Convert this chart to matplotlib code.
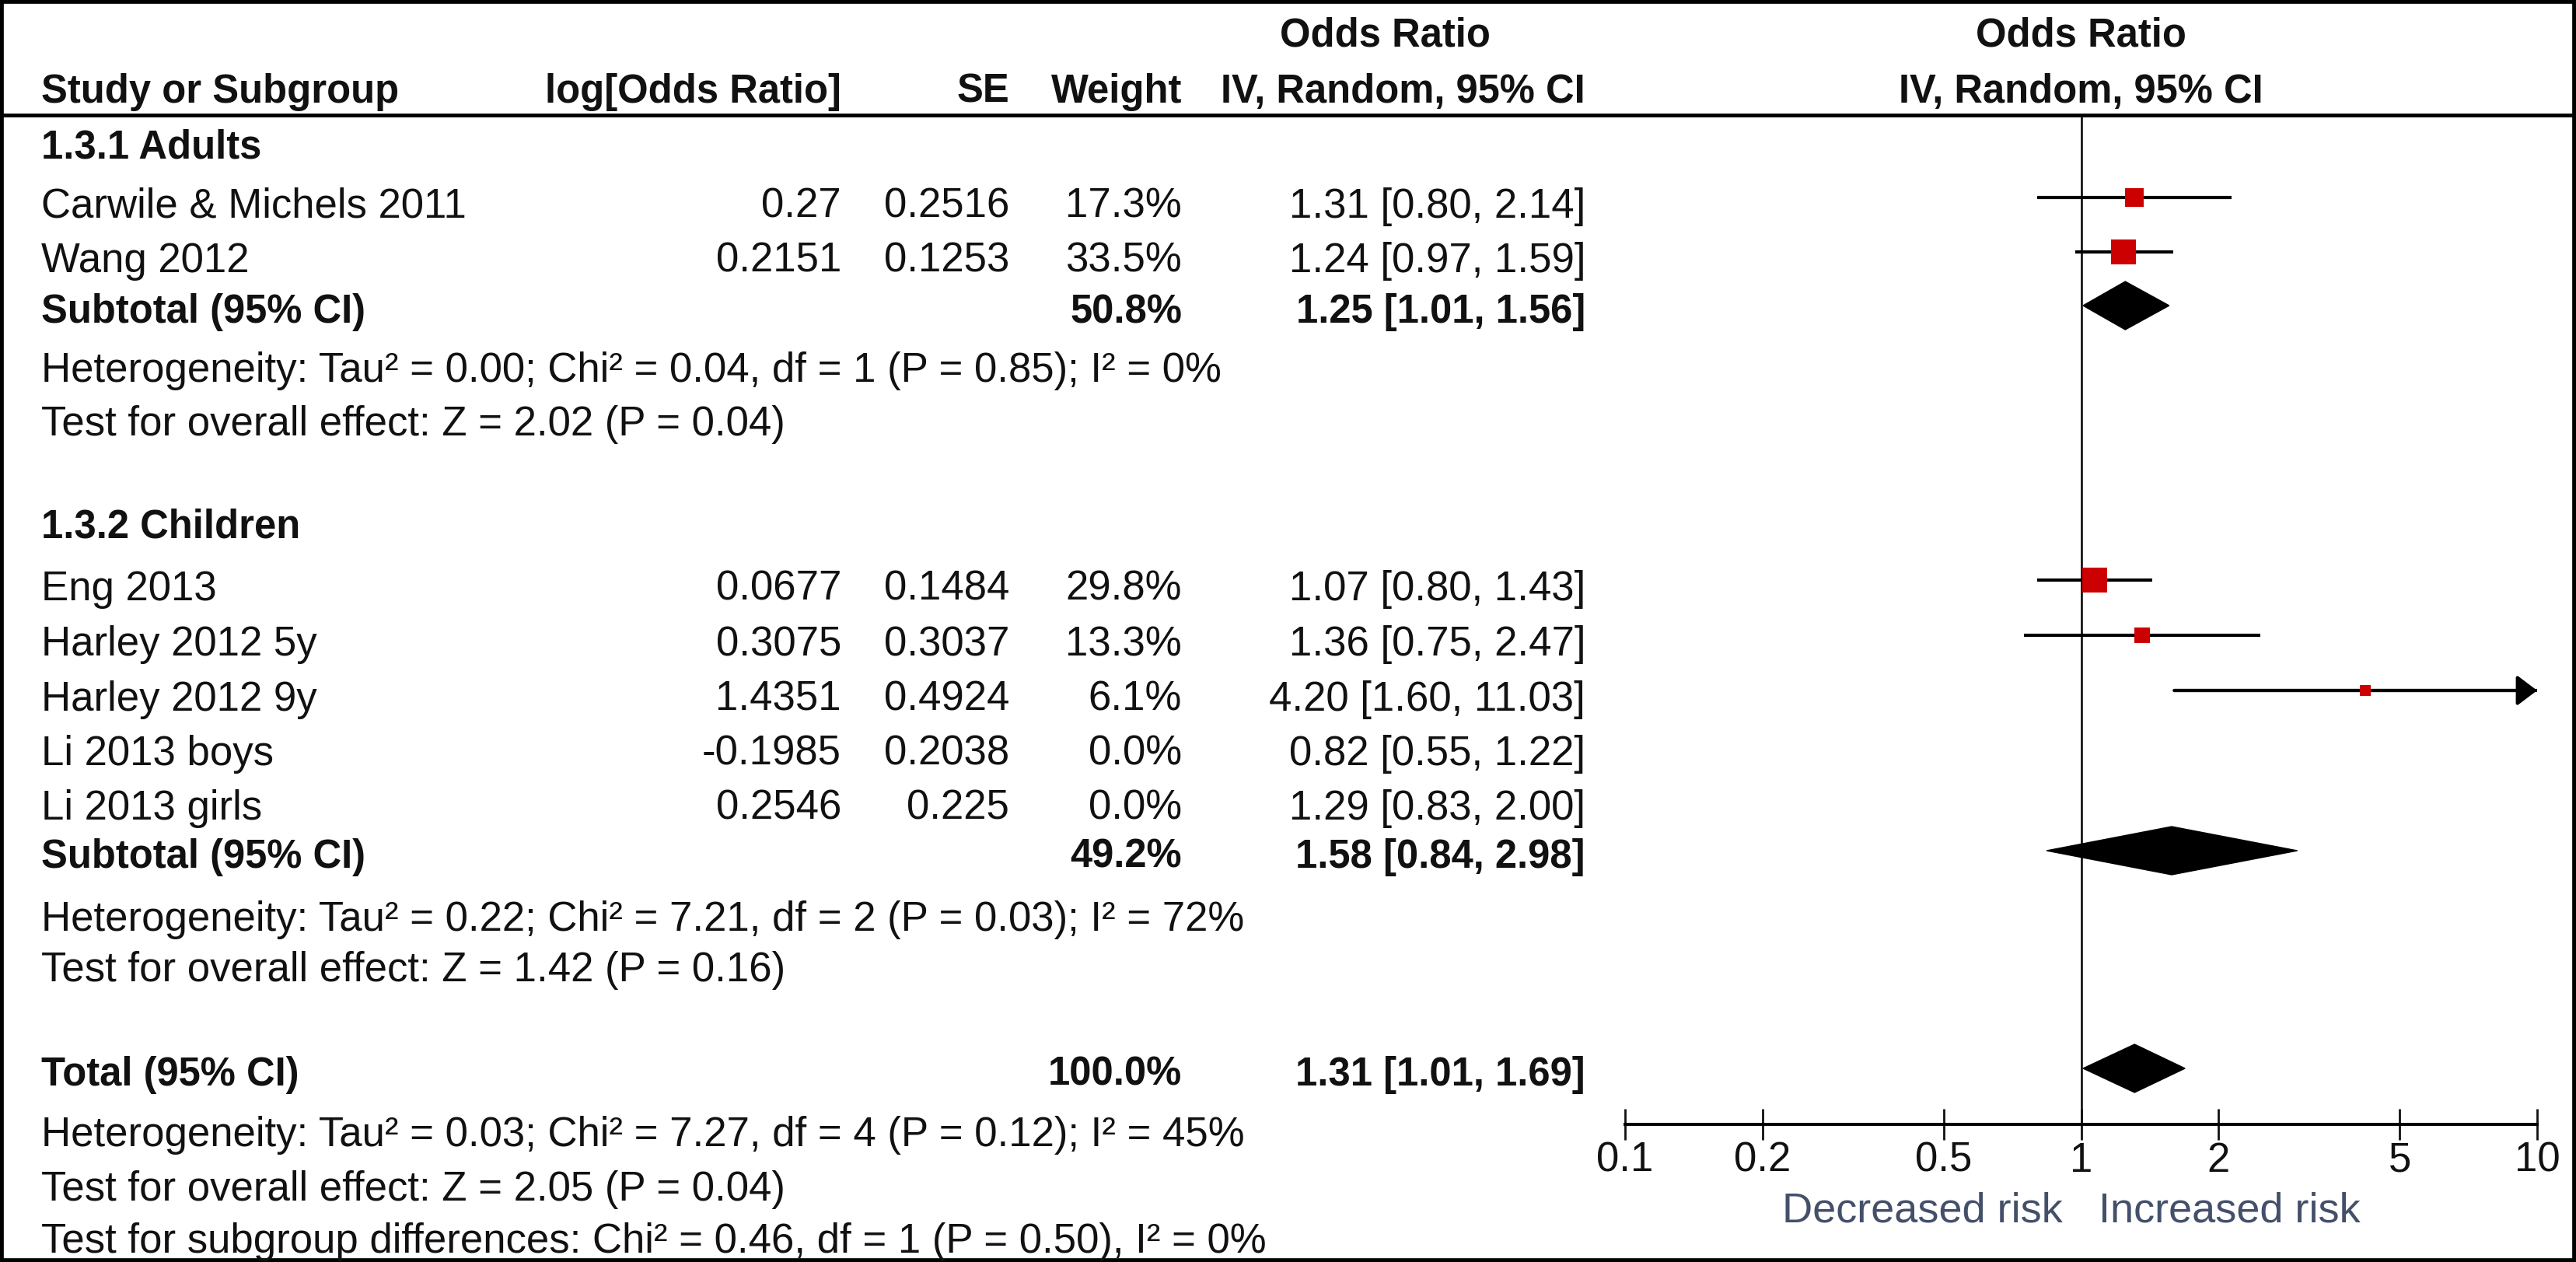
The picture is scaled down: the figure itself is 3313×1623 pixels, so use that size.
import matplotlib
matplotlib.use('Agg')
import matplotlib.pyplot as plt
from matplotlib.patches import Polygon
from matplotlib.ticker import NullLocator
from matplotlib.transforms import offset_copy
import numpy as np

plt.rcParams['font.family'] = ['Liberation Sans', 'DejaVu Sans']

### DATA ###
study_names = ["Carwile & Michels 2011", "Wang 2012", "Eng 2013", "Harley 2012 5y",
               "Harley 2012 9y", "Li 2013 boys", "Li 2013 girls"]
study_group = [0, 0, 1, 1, 1, 1, 1]
log_or = [0.27, 0.2151, 0.0677, 0.3075, 1.4351, -0.1985, 0.2546]
se = [0.2516, 0.1253, 0.1484, 0.3037, 0.4924, 0.2038, 0.225]
weight = [17.3, 33.5, 29.8, 13.3, 6.1, 0.0, 0.0]
odds_ratio = [1.31, 1.24, 1.07, 1.36, 4.20, 0.82, 1.29]
ci_low = [0.80, 0.97, 0.80, 0.75, 1.60, 0.55, 0.83]
ci_high = [2.14, 1.59, 1.43, 2.47, 11.03, 1.22, 2.00]

group_titles = ["1.3.1 Adults", "1.3.2 Children"]
sub_weight = [50.8, 49.2]
sub_or = [1.25, 1.58]
sub_low = [1.01, 0.84]
sub_high = [1.56, 2.98]
sub_notes = [
    ["Heterogeneity: Tau\u00b2 = 0.00; Chi\u00b2 = 0.04, df = 1 (P = 0.85); I\u00b2 = 0%",
     "Test for overall effect: Z = 2.02 (P = 0.04)"],
    ["Heterogeneity: Tau\u00b2 = 0.22; Chi\u00b2 = 7.21, df = 2 (P = 0.03); I\u00b2 = 72%",
     "Test for overall effect: Z = 1.42 (P = 0.16)"],
]

total_weight = 100.0
total_or = 1.31
total_low = 1.01
total_high = 1.69
total_notes = [
    "Heterogeneity: Tau\u00b2 = 0.03; Chi\u00b2 = 7.27, df = 4 (P = 0.12); I\u00b2 = 45%",
    "Test for overall effect: Z = 2.05 (P = 0.04)",
    "Test for subgroup differences: Chi\u00b2 = 0.46, df = 1 (P = 0.50), I\u00b2 = 0%",
]

axis_ticks = [0.1, 0.2, 0.5, 1, 2, 5, 10]
axis_ticklabels = ["0.1", "0.2", "0.5", "1", "2", "5", "10"]
favours = ["Decreased risk", "Increased risk"]

### LAYOUT (pixels, measured from top) ###
W, H = 3313, 1623
FS = 38        # regular text
FS_B = 36.5    # bold text
TXT = '#111111'
header_y = [60, 132]
header_line_y = 148
axis_y = 1446
group_title_y = [203, 692]
study_y = [280, 350, 772, 843, 914, 984, 1054]
sub_y = [415, 1116]
sub_note_y = [[491, 560], [1197, 1262]]
total_y = 1396
total_note_y = [1474, 1544, 1611]
favours_y = 1571
col_study = 53
col_logor = 1082
col_se = 1298
col_weight = 1520
col_or = 2039
head_or_center = 1781
x_01, x_10 = 2090, 3263

fig = plt.figure(figsize=(W / 100, H / 100), dpi=100)
ax = fig.add_axes([0, 0, 1, 1])
ax.set_xlim(0, W)
ax.set_ylim(H, 0)
ax.set_xticks([])
ax.set_yticks([])
for s in ax.spines.values():
    s.set_linewidth(7)
    s.set_color('black')

# forest plot axes: log x, pixel y
fx = fig.add_axes([x_01 / W, (H - axis_y) / H, (x_10 - x_01) / W, (axis_y - header_line_y) / H])
fx.set_xscale('log')
fx.set_xlim(0.1, 10)
fx.set_ylim(axis_y, header_line_y)
fx.patch.set_alpha(0)
for side in ['top', 'left', 'right']:
    fx.spines[side].set_visible(False)
fx.spines['bottom'].set_linewidth(2.8)
fx.set_xticks(axis_ticks)
fx.set_xticklabels(axis_ticklabels)
fx.xaxis.set_minor_locator(NullLocator())
fx.set_yticks([])
fx.tick_params(axis='x', direction='inout', length=29, width=2, labelsize=FS, pad=1,
               colors=TXT)
fx.axvline(1, color='black', lw=1.8, zorder=1)


def txt(x, y, s, ha='left', bold=False, **kw):
    ax.text(x, y, s, ha=ha, va='baseline', fontsize=FS_B if bold else FS, color=TXT,
            fontweight='bold' if bold else 'normal', **kw)


### HEADER ###
txt(head_or_center, header_y[0], "Odds Ratio", ha='center', bold=True)
txt(col_study, header_y[1], "Study or Subgroup", bold=True)
txt(col_logor, header_y[1], "log[Odds Ratio]", ha='right', bold=True)
txt(col_se, header_y[1], "SE", ha='right', bold=True)
txt(col_weight, header_y[1], "Weight", ha='right', bold=True)
txt(col_or, header_y[1], "IV, Random, 95% CI", ha='right', bold=True)
fx.text(1, header_y[0], "Odds Ratio", ha='center', va='baseline', fontsize=FS_B,
        fontweight='bold', color=TXT)
fx.text(1, header_y[1], "IV, Random, 95% CI", ha='center', va='baseline', fontsize=FS_B,
        fontweight='bold', color=TXT)
ax.axhline(header_line_y, color='black', lw=3.5)

### STUDIES ###
for i, name in enumerate(study_names):
    y = study_y[i]
    txt(col_study, y, name)
    txt(col_logor, y, str(log_or[i]), ha='right')
    txt(col_se, y, str(se[i]), ha='right')
    txt(col_weight, y, f"{weight[i]:.1f}%", ha='right')
    txt(col_or, y, f"{odds_ratio[i]:.2f} [{ci_low[i]:.2f}, {ci_high[i]:.2f}]", ha='right')
    if weight[i] <= 0:
        continue
    my = y - 26
    hi = min(ci_high[i], 10)
    fx.plot([ci_low[i], hi], [my, my], color='black', lw=3, solid_capstyle='butt', zorder=2)
    if ci_high[i] > 10:
        fx.annotate('', xy=(hi, my), xytext=(ci_low[i], my),
                    arrowprops=dict(arrowstyle='-|>,head_length=0.45,head_width=0.34',
                                    mutation_scale=35, color='black', lw=3,
                                    shrinkA=0, shrinkB=0))
    side_pt = 5.7 * np.sqrt(weight[i]) * 72 / 100
    fx.scatter([odds_ratio[i]], [my], marker='s', s=side_pt ** 2, color='#cc0000',
               linewidths=0, zorder=3)


def diamond(est, lo, hi, y):
    dy = y - 22
    fx.add_patch(Polygon([(lo, dy), (est, dy - 31), (hi, dy), (est, dy + 31)],
                         closed=True, fc='black', ec='black', lw=1, zorder=3))


### SUBGROUPS ###
for g in range(2):
    txt(col_study, group_title_y[g], group_titles[g], bold=True)
    txt(col_study, sub_y[g], "Subtotal (95% CI)", bold=True)
    txt(col_weight, sub_y[g], f"{sub_weight[g]:.1f}%", ha='right', bold=True)
    txt(col_or, sub_y[g], f"{sub_or[g]:.2f} [{sub_low[g]:.2f}, {sub_high[g]:.2f}]",
        ha='right', bold=True)
    diamond(sub_or[g], sub_low[g], sub_high[g], sub_y[g])
    for note, ny in zip(sub_notes[g], sub_note_y[g]):
        txt(col_study, ny, note)

### TOTAL ###
txt(col_study, total_y, "Total (95% CI)", bold=True)
txt(col_weight, total_y, f"{total_weight:.1f}%", ha='right', bold=True)
txt(col_or, total_y, f"{total_or:.2f} [{total_low:.2f}, {total_high:.2f}]", ha='right', bold=True)
diamond(total_or, total_low, total_high, total_y)
for note, ny in zip(total_notes, total_note_y):
    txt(col_study, ny, note)

# favours labels either side of the null line
fx.text(1, favours_y, favours[0], ha='right', va='baseline', fontsize=39, color='#44506a',
        transform=offset_copy(fx.transData, fig=fig, x=-24, y=0, units='dots'))
fx.text(1, favours_y, favours[1], ha='left', va='baseline', fontsize=39, color='#44506a',
        transform=offset_copy(fx.transData, fig=fig, x=22, y=0, units='dots'))

fig.savefig('out.png', dpi=100)
